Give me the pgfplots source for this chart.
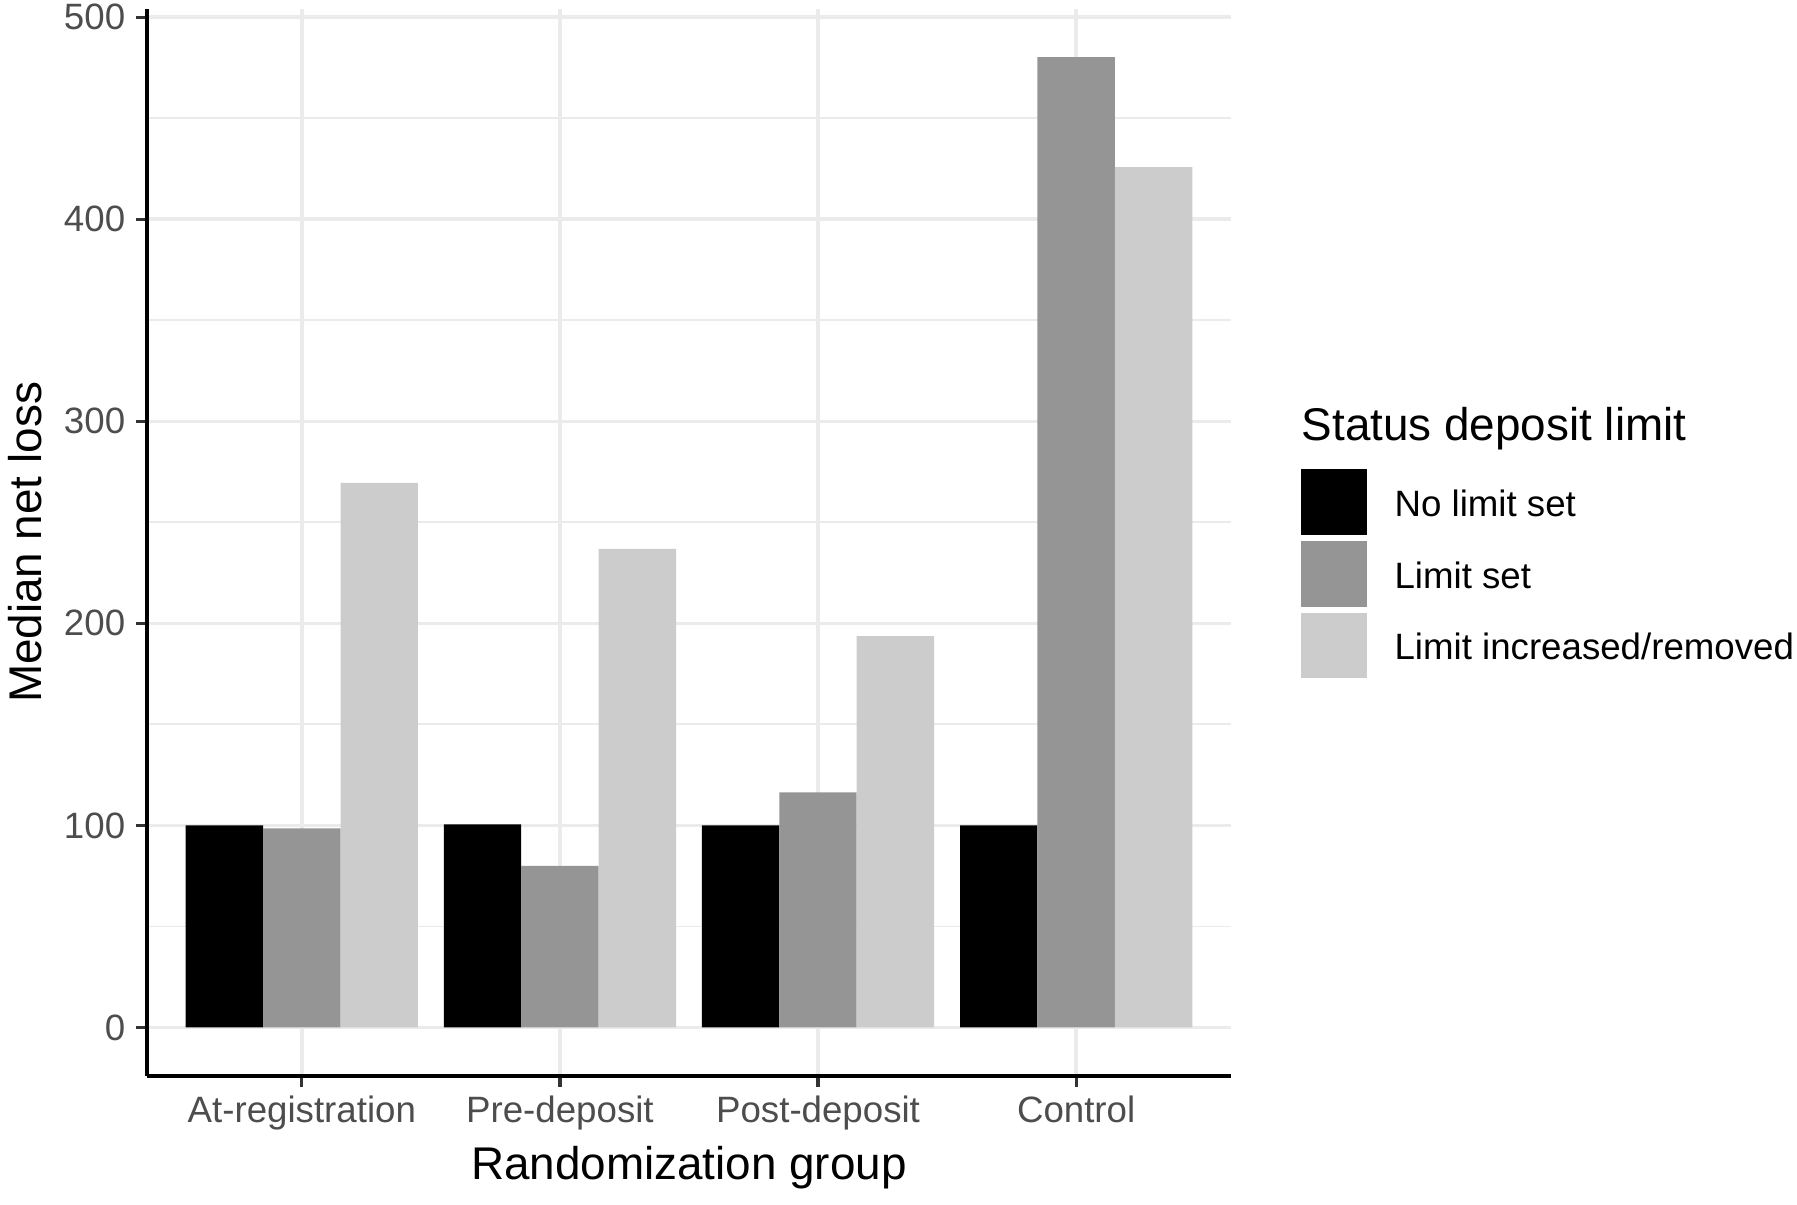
\documentclass[border=0pt]{standalone}
\usepackage{fontspec}
\setmainfont{Liberation Sans}
\usepackage{pgfplots}
\pgfplotsset{compat=1.18}
\definecolor{barA}{HTML}{000000}
\definecolor{barB}{HTML}{959595}
\definecolor{barC}{HTML}{CCCCCC}
\definecolor{gridc}{HTML}{EBEBEB}
\definecolor{tickc}{HTML}{333333}
\definecolor{labelc}{HTML}{4D4D4D}
\begin{document}
\begin{tikzpicture}
\begin{axis}[
  name=ax,
  scale only axis,
  width=260.16pt, height=256.08pt,
  xmin=-0.6, xmax=3.6, ymin=-24, ymax=504,
  ybar, bar width=18.58pt,
  axis x line*=bottom, axis y line*=left,
  axis line style={line width=0.75pt, -, black},
  xtick={0,1,2,3},
  xticklabels={At-registration,Pre-deposit,Post-deposit,Control},
  ytick={0,100,200,300,400,500},
  minor ytick={50,150,250,350,450},
  xmajorgrids, ymajorgrids, yminorgrids,
  major grid style={line width=0.8pt, color=gridc},
  minor grid style={line width=0.45pt, color=gridc},
  tick align=outside, major tick length=2.64pt, minor tick length=0pt,
  tick style={line width=0.75pt, color=tickc},
  /pgf/number format/assume math mode=true,
  ticklabel style={font=\fontsize{8.8}{10}\selectfont, text=labelc},
  xticklabel style={anchor=base, inner sep=0pt, yshift=-8.5pt},
  yticklabel style={anchor=east, inner sep=0pt, xshift=-2.4pt},
  xlabel={Randomization group},
  ylabel={Median net loss},
  label style={font=\fontsize{11}{13}\selectfont},
  xlabel style={at={(axis description cs:0.5,-0.097)}, anchor=base},
  ylabel style={at={(axis description cs:-0.1126,0.5)}, anchor=center},
  every axis plot post/.append style={
    legend image code/.code={\fill[##1] (0pt,-7.88pt) rectangle (15.76pt,7.88pt);}
  },
  legend style={at={(axis description cs:1.0646,0.4707)}, anchor=west,
    draw=none, fill=none, inner sep=0pt, outer sep=0pt,
    row sep=1.44pt, column sep=6.7pt,
    font=\fontsize{8.8}{10}\selectfont,
    nodes={inner sep=0pt, anchor=west, yshift=-1pt}},
  legend cell align=left,
]
\addplot[fill=barA, draw=none, bar shift=-18.58pt] coordinates {(0,100) (1,100.5) (2,100) (3,100)};
\addplot[fill=barB, draw=none, bar shift=0pt] coordinates {(0,98.5) (1,80) (2,116.4) (3,480.2)};
\addplot[fill=barC, draw=none, bar shift=18.58pt] coordinates {(0,269.5) (1,236.8) (2,193.7) (3,425.7)};
\legend{No limit set, Limit set, Limit increased/removed}
\end{axis}
\node[anchor=base west, inner sep=0pt, font=\fontsize{11}{13}\selectfont] at ([shift={(276.96pt,152.6pt)}]ax.south west) {Status deposit limit};
\pgfresetboundingbox
\path ([shift={(-35.28pt,-30.96pt)}]ax.south west) rectangle ([shift={(396pt,258.24pt)}]ax.south west);
\end{tikzpicture}
\end{document}
